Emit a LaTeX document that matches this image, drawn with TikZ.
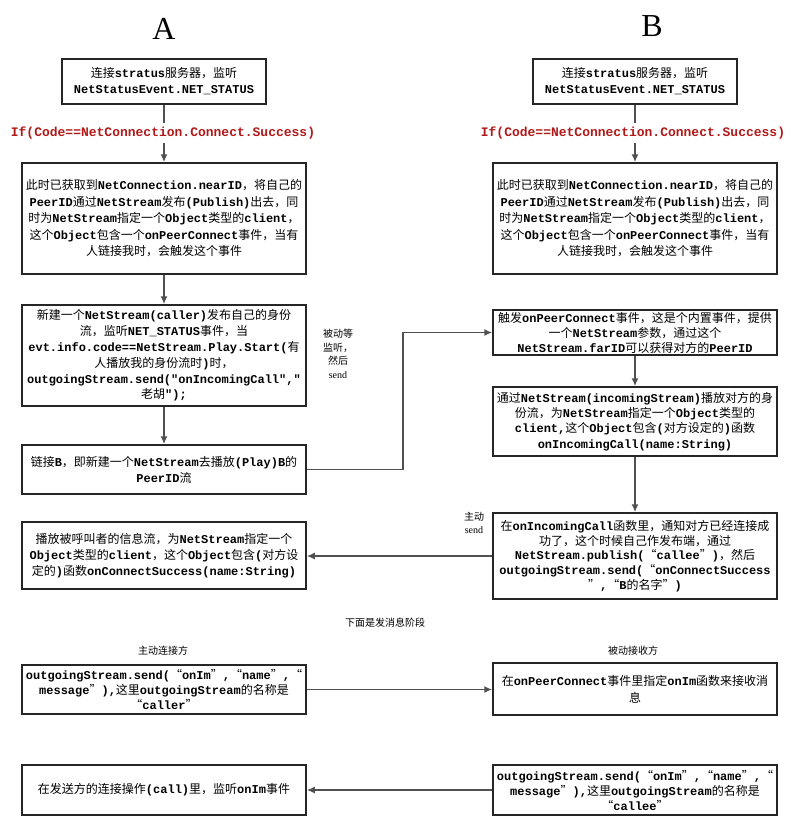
\documentclass[tikz,border=0pt]{standalone}
\usepackage{fontspec}
\setmainfont{Noto Sans CJK SC}
\newfontfamily\monof{Liberation Mono}
\newfontfamily\seriff{Liberation Serif}
\newcommand\code[1]{{\monof\bfseries #1}}
\usetikzlibrary{arrows.meta}
\definecolor{ifred}{RGB}{178,24,24}
\definecolor{edge}{RGB}{80,80,80}
\begin{document}
\begin{tikzpicture}[x=1pt,y=-1pt,
  box/.style={draw=black!85,line width=1.5pt,fill=white,inner sep=0pt,align=center,
    font=\fontsize{12}{16}\selectfont},
  conn/.style={draw=edge,line width=1.7pt,-{Latex[length=8pt,width=7pt]}},
  plain/.style={draw=edge,line width=1.7pt},
  iftext/.style={text=ifred,font=\fontsize{13}{15}\selectfont\monof\bfseries,inner xsep=0pt,inner ysep=4pt},
  lbl/.style={font=\fontsize{10}{13.5}\selectfont,align=center,inner sep=0pt}]
\useasboundingbox (0,0) rectangle (798,825);

% titles
\node[font=\fontsize{32}{32}\selectfont\seriff] (tA) at (164,29) {A};
\node[font=\fontsize{32}{32}\selectfont\seriff] (tB) at (652,26) {B};

% A column
\node[box,minimum width=204pt,minimum height=45pt] (a1) at (164,81.5)
  {连接\code{stratus}服务器，监听\\\code{NetStatusEvent.NET\_STATUS}};
\node[iftext] (ifA) at (163,133) {If(Code==NetConnection.Connect.Success)};
\node[box,minimum width=284pt,minimum height=111pt,font=\fontsize{12}{16.5}\selectfont] (a2) at (164,218.5)
  {此时已获取到\code{NetConnection.nearID}，将自己的\\
   \code{PeerID}通过\code{NetStream}发布\code{(Publish)}出去，同\\
   时为\code{NetStream}指定一个\code{Object}类型的\code{client}，\\
   这个\code{Object}包含一个\code{onPeerConnect}事件，当有\\
   人链接我时，会触发这个事件};
\node[box,minimum width=284pt,minimum height=101pt,font=\fontsize{12}{15.8}\selectfont] (a3) at (164,355.5)
  {新建一个\code{NetStream(caller)}发布自己的身份\\
   流，监听\code{NET\_STATUS}事件，当\\
   \code{evt.info.code==NetStream.Play.Start(}有\\
   人播放我的身份流时\code{)}时，\\
   \code{outgoingStream.send("onIncomingCall","}\\
   老胡\code{");}};
\node[box,minimum width=284pt,minimum height=49pt] (a4) at (164,469.5)
  {链接\code{B}，即新建一个\code{NetStream}去播放\code{(Play)B}的\\
   \code{PeerID}流};
\node[box,minimum width=284pt,minimum height=67pt] (a5) at (164,555.5)
  {播放被呼叫者的信息流，为\code{NetStream}指定一个\\
   \code{Object}类型的\code{client}，这个\code{Object}包含\code{(}对方设\\
   定的\code{)}函数\code{onConnectSuccess(name:String)}};
\node[box,minimum width=284pt,minimum height=49pt,font=\fontsize{12}{15}\selectfont] (a6) at (164,689.5)
  {\code{outgoingStream.send(}“\code{onIm}”\code{,}“\code{name}”\code{,}“\\
   \code{message}”\code{),}这里\code{outgoingStream}的名称是\\
   “\code{caller}”};
\node[box,minimum width=284pt,minimum height=50pt] (a7) at (164,790)
  {在发送方的连接操作\code{(call)}里，监听\code{onIm}事件};

% B column
\node[box,minimum width=204pt,minimum height=45pt] (b1) at (635,81.5)
  {连接\code{stratus}服务器，监听\\\code{NetStatusEvent.NET\_STATUS}};
\node[iftext] (ifB) at (633,133) {If(Code==NetConnection.Connect.Success)};
\node[box,minimum width=284pt,minimum height=111pt,font=\fontsize{12}{16.5}\selectfont] (b2) at (635,218.5)
  {此时已获取到\code{NetConnection.nearID}，将自己的\\
   \code{PeerID}通过\code{NetStream}发布\code{(Publish)}出去，同\\
   时为\code{NetStream}指定一个\code{Object}类型的\code{client}，\\
   这个\code{Object}包含一个\code{onPeerConnect}事件，当有\\
   人链接我时，会触发这个事件};
\node[box,minimum width=284pt,minimum height=45pt,font=\fontsize{12}{15}\selectfont] (b3) at (635,332.5)
  {触发\code{onPeerConnect}事件，这是个内置事件，提供\\
   一个\code{NetStream}参数，通过这个\\
   \code{NetStream.farID}可以获得对方的\code{PeerID}};
\node[box,minimum width=284pt,minimum height=69pt,font=\fontsize{12}{15.2}\selectfont] (b4) at (635,421.5)
  {通过\code{NetStream(incomingStream)}播放对方的身\\
   份流，为\code{NetStream}指定一个\code{Object}类型的\\
   \code{client,}这个\code{Object}包含\code{(}对方设定的\code{)}函数\\
   \code{onIncomingCall(name:String)}};
\node[box,minimum width=284pt,minimum height=86pt,font=\fontsize{12}{14.6}\selectfont] (b5) at (635,556)
  {在\code{onIncomingCall}函数里，通知对方已经连接成\\
   功了，这个时候自己作发布端，通过\\
   \code{NetStream.publish(}“\code{callee}”\code{)}，然后\\
   \code{outgoingStream.send(}“\code{onConnectSuccess}\\
   ”\code{,}“\code{B}的名字”\code{)}};
\node[box,minimum width=284pt,minimum height=52pt,font=\fontsize{12}{17}\selectfont] (b6) at (635,689)
  {在\code{onPeerConnect}事件里指定\code{onIm}函数来接收消\\
   息};
\node[box,minimum width=284pt,minimum height=50pt,font=\fontsize{12}{15}\selectfont] (b7) at (635,790)
  {\code{outgoingStream.send(}“\code{onIm}”\code{,}“\code{name}”\code{,}“\\
   \code{message}”\code{),}这里\code{outgoingStream}的名称是\\
   “\code{callee}”};

% labels
\node[lbl] (l1) at (338,354) {被动等\\监听，\\然后\\{\seriff send}};
\node[lbl] (l2) at (474,523) {主动\\{\seriff send}};
\node[lbl] (l3) at (385,623) {下面是发消息阶段};
\node[lbl] (l4) at (163,651) {主动连接方};
\node[lbl] (l5) at (633,651) {被动接收方};

% connectors
\coordinate (turn) at (403,0);
\draw[plain] (a1.south) -- (ifA.north -| a1.south);
\draw[conn] (ifA.south -| a2.north) -- (a2.north);
\draw[conn] (a2.south) -- (a3.north);
\draw[conn] (a3.south) -- (a4.north);
\draw[conn] (a4.east) -- (a4.east -| turn) |- (b3.west);
\draw[plain] (b1.south) -- (ifB.north -| b1.south);
\draw[conn] (ifB.south -| b2.north) -- (b2.north);
\draw[conn] (b3.south) -- (b4.north);
\draw[conn] (b4.south) -- (b5.north);
\draw[conn] (b5.west) -- (b5.west -| a5.east);
\draw[conn] (a6.east) -- (a6.east -| b6.west);
\draw[conn] (b7.west) -- (a7.east);
\end{tikzpicture}
\end{document}
